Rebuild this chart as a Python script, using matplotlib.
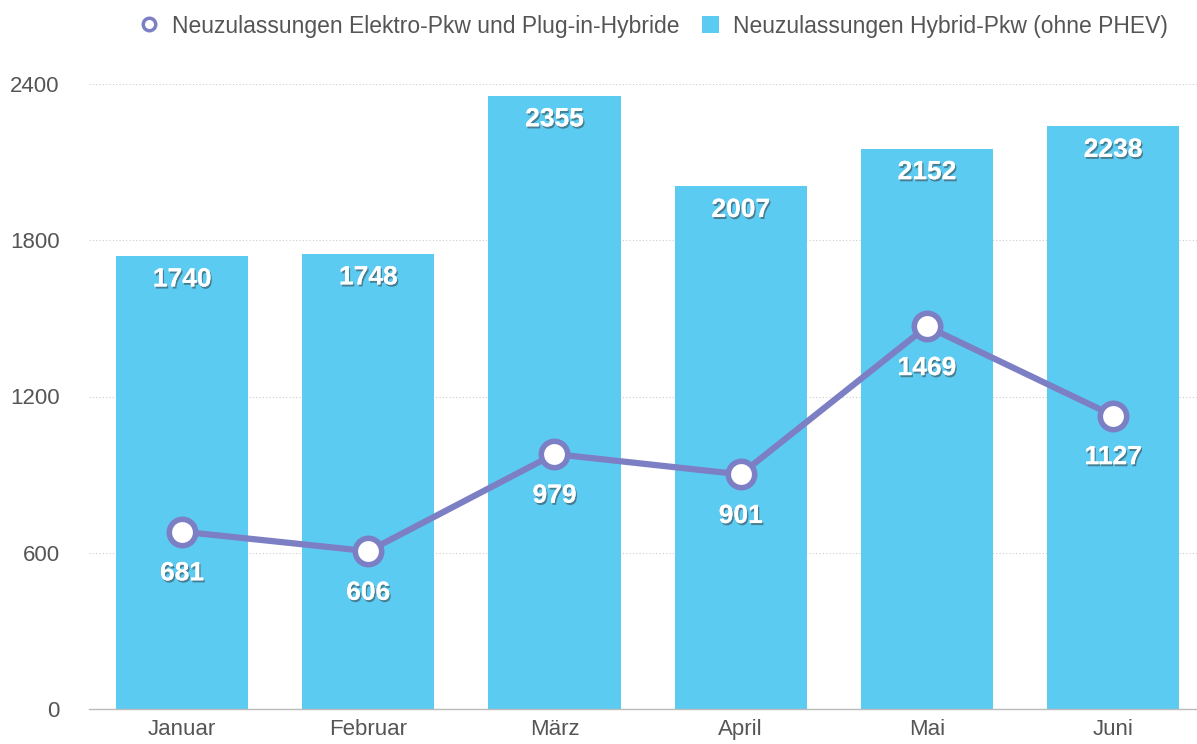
import matplotlib
matplotlib.use("Agg")
import matplotlib.pyplot as plt
import matplotlib.patheffects as pe
from matplotlib.lines import Line2D
from matplotlib.patches import Patch

months = ["Januar", "Februar", "März", "April", "Mai", "Juni"]
hybrid = [1740, 1748, 2355, 2007, 2152, 2238]
elektro = [681, 606, 979, 901, 1469, 1127]
yticks = [0, 600, 1200, 1800, 2400]
label_line = "Neuzulassungen Elektro-Pkw und Plug-in-Hybride"
label_bar = "Neuzulassungen Hybrid-Pkw (ohne PHEV)"

plt.rcParams['font.family'] = ['Liberation Sans', 'DejaVu Sans']

bar_color = "#5ccbf2"
line_color = "#7d7fc5"
text_gray = "#555555"

fig = plt.figure(figsize=(11.97, 7.44), dpi=100)
W, H = 1197, 744
left, right, top, bottom = 89, 1197, 84, 709
ax = fig.add_axes([left / W, (H - bottom) / H, (right - left) / W, (bottom - top) / H])

x = list(range(len(months)))
ax.bar(x, hybrid, width=0.71, color=bar_color, zorder=2)
ax.plot(x, elektro, color=line_color, lw=4.5, marker='o', markersize=19,
        markerfacecolor='white', markeredgecolor=line_color, markeredgewidth=4, zorder=4,
        solid_capstyle='round')

shadow = [pe.withSimplePatchShadow(offset=(1, -1.5), shadow_rgbFace='#333333', alpha=0.5), pe.Normal()]
for xi, v in zip(x, hybrid):
    ax.annotate(str(v), (xi, v), xytext=(0, -17), textcoords='offset points', ha='center', va='center',
                color='white', fontsize=19, fontweight='bold', zorder=5, path_effects=shadow)
for xi, v in zip(x, elektro):
    ax.annotate(str(v), (xi, v), xytext=(0, -30), textcoords='offset points', ha='center', va='center',
                color='white', fontsize=19, fontweight='bold', zorder=5, path_effects=shadow)

ax.set_xlim(-0.5, -0.5 + (right - left) / 186.2)
ax.set_ylim(0, 2400)
ax.set_yticks(yticks)
ax.set_yticklabels([str(t) for t in yticks])
ax.set_xticks(x)
ax.set_xticklabels(months)
ax.tick_params(axis='both', length=0, labelsize=16, colors=text_gray)
ax.tick_params(axis='y', pad=21)
ax.tick_params(axis='x', pad=7)
for lbl in ax.get_yticklabels():
    lbl.set_horizontalalignment('right')
ax.yaxis.grid(True, linestyle=(0, (1, 2)), color='#cccccc', lw=0.8, zorder=0)
ax.set_axisbelow(True)
for s in ['top', 'right', 'left']:
    ax.spines[s].set_visible(False)
ax.spines['bottom'].set_color('#bbbbbb')
ax.spines['bottom'].set_linewidth(1)
ax.spines['bottom'].set_zorder(3)

handles = [Line2D([0], [0], marker='o', color='none', markerfacecolor='white', markeredgecolor=line_color,
                  markeredgewidth=2.5, markersize=9),
           Patch(facecolor=bar_color, edgecolor='none')]
fig.legend(handles, [label_line, label_bar], loc='center right',
           bbox_to_anchor=(1168 / W, 1 - 26 / H), ncol=2, borderaxespad=0, borderpad=0,
           frameon=False, fontsize=16.5, labelcolor=text_gray, handlelength=0.75, handletextpad=0.6,
           columnspacing=1.0, handleheight=0.75)

fig.savefig("out.png", dpi=100)
